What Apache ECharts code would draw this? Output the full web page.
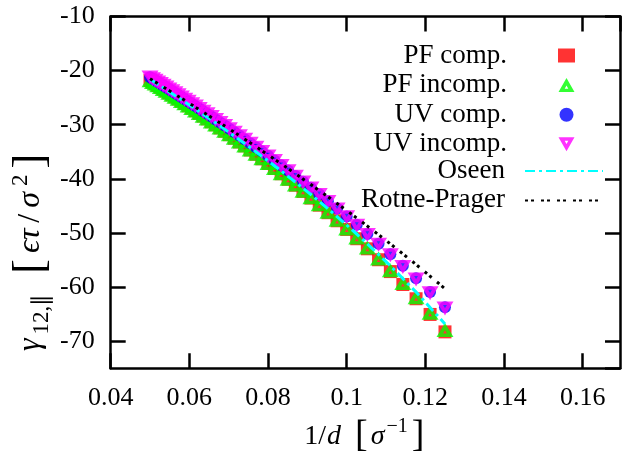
<!DOCTYPE html>
<html>
<head>
<meta charset="utf-8">
<script src="https://cdn.jsdelivr.net/npm/echarts@6/dist/echarts.min.js"></script>
<style>
  html, body { margin: 0; padding: 0; background: #fff; }
  #chart { width: 623px; height: 456px; }
</style>
</head>
<body>
<div id="chart"></div>
<script>
// Inverse separation 1/d (sigma^-1), d = 20 ... 8
const invD = [0.05, 0.050633, 0.051282, 0.051948, 0.052632, 0.053333, 0.054054, 0.054795,
  0.055556, 0.056338, 0.057143, 0.057971, 0.058824, 0.059701, 0.060606, 0.061538,
  0.0625, 0.063492, 0.064516, 0.065574, 0.066667, 0.067797, 0.068966, 0.070175,
  0.071429, 0.072727, 0.074074, 0.075472, 0.076923, 0.078431, 0.08, 0.081633,
  0.083333, 0.085106, 0.086957, 0.088889, 0.090909, 0.093023, 0.095238, 0.097561,
  0.1, 0.102564, 0.105263, 0.108108, 0.111111, 0.114286, 0.117647, 0.121212, 0.125];

const pfComp = [-21.83, -22.13, -22.43, -22.75, -23.07, -23.41, -23.75, -24.11, -24.48, -24.86,
  -25.24, -25.65, -26.07, -26.50, -26.95, -27.41, -27.90, -28.40, -28.91, -29.45,
  -30.01, -30.59, -31.20, -31.83, -32.49, -33.18, -33.90, -34.66, -35.45, -36.29,
  -37.16, -38.08, -39.05, -40.08, -41.17, -42.32, -43.55, -44.86, -46.25, -47.74,
  -49.34, -51.06, -52.92, -54.94, -57.13, -59.52, -62.15, -65.05, -68.27];

const pfIncomp = [-21.80, -22.10, -22.40, -22.72, -23.04, -23.38, -23.72, -24.07, -24.44, -24.82,
  -25.20, -25.61, -26.02, -26.45, -26.90, -27.36, -27.84, -28.34, -28.85, -29.39,
  -29.94, -30.52, -31.13, -31.76, -32.41, -33.10, -33.82, -34.57, -35.36, -36.19,
  -37.06, -37.97, -38.94, -39.96, -41.04, -42.18, -43.40, -44.70, -46.08, -47.56,
  -49.15, -50.85, -52.70, -54.70, -56.87, -59.24, -61.85, -64.72, -67.91];

const uvComp = [-21.22, -21.51, -21.80, -22.11, -22.42, -22.74, -23.07, -23.41, -23.76, -24.12,
  -24.49, -24.88, -25.28, -25.69, -26.12, -26.56, -27.02, -27.49, -27.98, -28.49,
  -29.02, -29.57, -30.14, -30.74, -31.36, -32.01, -32.69, -33.40, -34.14, -34.92,
  -35.74, -36.60, -37.50, -38.45, -39.46, -40.53, -41.65, -42.85, -44.13, -45.49,
  -46.94, -48.50, -50.17, -51.98, -53.93, -56.06, -58.38, -60.92, -63.72];

const uvIncomp = [-21.29, -21.58, -21.87, -22.18, -22.49, -22.81, -23.14, -23.48, -23.83, -24.20,
  -24.57, -24.96, -25.36, -25.77, -26.20, -26.64, -27.10, -27.58, -28.07, -28.58,
  -29.11, -29.66, -30.24, -30.84, -31.46, -32.11, -32.79, -33.51, -34.25, -35.03,
  -35.85, -36.72, -37.62, -38.58, -39.59, -40.66, -41.79, -42.99, -44.28, -45.64,
  -47.10, -48.67, -50.35, -52.17, -54.13, -56.27, -58.60, -61.15, -63.97];

// Analytic hydrodynamic approximations
const theoryX = [0.05, 0.052632, 0.055556, 0.058824, 0.0625, 0.066667, 0.071429, 0.076923,
  0.083333, 0.090909, 0.095238, 0.1, 0.105263, 0.111111, 0.117647, 0.125];
const oseen = [-21.60, -22.83, -24.21, -25.78, -27.57, -29.64, -32.08, -34.98,
  -38.50, -42.89, -45.51, -48.52, -51.99, -56.06, -60.91, -66.81];
const rotnePrager = [-21.50, -22.68, -24.01, -25.50, -27.19, -29.14, -31.39, -34.04,
  -37.20, -41.05, -43.31, -45.84, -48.72, -52.01, -55.82, -60.29];

const seriesNames = ['PF comp.', 'PF incomp.', 'UV comp.', 'UV incomp.', 'Oseen', 'Rotne-Prager'];
const xTicks = { min: 0.04, max: 0.1695, step: 0.02 };
const yRange = { min: -75, max: -10 };

const FONT = 'Liberation Serif';
const pairs = (xs, ys) => xs.map((x, i) => [x, ys[i]]);

// Thick open triangles (outer outline with a small inner hole of opposite winding)
const TRI_UP = 'path://M0,14 L8,0 L16,14 Z M6.2,10.6 L9.8,10.6 L8,7.4 Z';
const TRI_DOWN = 'path://M0,0 L16,0 L8,14 Z M6.2,3.4 L8,6.6 L9.8,3.4 Z';

const chart = echarts.init(document.getElementById('chart'), null, { renderer: 'canvas' });

const border = { show: true, lineStyle: { color: '#000', width: 2.5 } };
const innerTick = { show: true, inside: true, length: 15, lineStyle: { color: '#000', width: 2.5 } };
const tickFont = { fontFamily: FONT, fontSize: 26, color: '#000' };
const keyText = { fontFamily: FONT, fontSize: 27, color: '#000' };

chart.setOption({
  animation: false,
  backgroundColor: '#fff',
  grid: {
    left: 110.7, right: 3, top: 16.5, bottom: 87.7,
    containLabel: false, outerBoundsMode: 'none'
  },
  xAxis: [
    {
      type: 'value', position: 'bottom',
      min: xTicks.min, max: xTicks.max, interval: xTicks.step,
      axisLine: border, axisTick: innerTick, splitLine: { show: false },
      axisLabel: Object.assign({ margin: 17, showMaxLabel: false }, tickFont),
      name: '1/{i|d}{sp| }{b|[}{i|σ}{sup|−1}{b|]}',
      nameLocation: 'middle', nameGap: 48,
      nameTextStyle: {
        fontFamily: FONT, fontSize: 28, color: '#000', lineHeight: 40,
        rich: {
          i: { fontFamily: FONT, fontSize: 28, fontStyle: 'italic', lineHeight: 40, padding: [0, 1] },
          sp: { fontFamily: FONT, fontSize: 28, lineHeight: 40, padding: [0, 2] },
          sup: { fontFamily: FONT, fontSize: 20, verticalAlign: 'top', lineHeight: 24, padding: [0, 2, 0, 1] },
          b: { fontFamily: FONT, fontSize: 38, lineHeight: 40, padding: [0, 2] }
        }
      }
    },
    {
      type: 'value', position: 'top',
      min: xTicks.min, max: xTicks.max, interval: xTicks.step,
      axisLine: border, axisTick: innerTick, splitLine: { show: false },
      axisLabel: { show: false }
    }
  ],
  yAxis: [
    {
      type: 'value', position: 'left',
      min: yRange.min, max: yRange.max, splitNumber: 6,
      axisLine: border, axisTick: innerTick, splitLine: { show: false },
      axisLabel: Object.assign({ margin: 16, showMinLabel: false }, tickFont)
    },
    {
      type: 'value', position: 'right',
      min: yRange.min, max: yRange.max, splitNumber: 6,
      axisLine: border, axisTick: innerTick, splitLine: { show: false },
      axisLabel: { show: false }
    }
  ],
  legend: [
    {
      // point-style entries
      orient: 'vertical', align: 'right',
      right: 48, top: 42, padding: 0,
      itemWidth: 17, itemHeight: 14, itemGap: 2.6,
      selectedMode: false,
      textStyle: Object.assign({ padding: [0, 46, 0, 0] }, keyText),
      data: seriesNames.slice(0, 4)
    },
    {
      // line-style entries
      orient: 'vertical', align: 'right',
      right: 19, top: 157.5, padding: 0,
      itemWidth: 78, itemHeight: 14, itemGap: 2.4,
      selectedMode: false,
      itemStyle: { opacity: 0 },
      textStyle: Object.assign({ padding: [0, 15, 0, 0] }, keyText),
      data: seriesNames.slice(4)
    }
  ],
  graphic: [
    {
      type: 'text', x: 31, y: 354, rotation: Math.PI / 2,
      style: {
        text: '{i|γ}{sub|12,∥}{sp| }{b|[}{i|ϵτ}{s|/}{i|σ}{sup|2}{b|]}',
        fontFamily: FONT, fontSize: 32, fill: '#000', lineHeight: 44,
        align: 'left', verticalAlign: 'middle',
        rich: {
          i: { fontFamily: FONT, fontSize: 32, fontStyle: 'italic', lineHeight: 44, padding: [0, 3] },
          s: { fontFamily: FONT, fontSize: 32, lineHeight: 44, padding: [0, 3] },
          sp: { fontFamily: FONT, fontSize: 32, lineHeight: 44, padding: [0, 3] },
          sub: { fontFamily: FONT, fontSize: 23, verticalAlign: 'bottom', lineHeight: 30, padding: [0, 3, 0, 1] },
          sup: { fontFamily: FONT, fontSize: 23, verticalAlign: 'top', lineHeight: 28, padding: [0, 3] },
          b: { fontFamily: FONT, fontSize: 44, lineHeight: 44, padding: [0, 3] }
        }
      }
    }
  ],
  series: [
    {
      name: seriesNames[0], type: 'scatter', data: pairs(invD, pfComp),
      symbol: 'rect', symbolSize: 13,
      itemStyle: { color: '#ff0000' }
    },
    {
      name: seriesNames[1], type: 'scatter', data: pairs(invD, pfIncomp),
      symbol: TRI_UP, symbolSize: [17, 14],
      itemStyle: { color: '#00ff00' }
    },
    {
      name: seriesNames[2], type: 'scatter', data: pairs(invD, uvComp),
      symbol: 'circle', symbolSize: 12,
      itemStyle: { color: '#0000ff' }
    },
    {
      name: seriesNames[3], type: 'scatter', data: pairs(invD, uvIncomp),
      symbol: TRI_DOWN, symbolSize: [17, 14],
      itemStyle: { color: '#ff00ff' }
    },
    {
      name: seriesNames[4], type: 'line', data: pairs(theoryX, oseen),
      showSymbol: false, symbol: 'none',
      lineStyle: { color: '#00ffff', width: 3, type: [10, 4, 3, 4] },
      itemStyle: { color: '#00ffff' }
    },
    {
      name: seriesNames[5], type: 'line', data: pairs(theoryX, rotnePrager),
      showSymbol: false, symbol: 'none',
      lineStyle: { color: '#000000', width: 3, type: [3, 3, 3, 7] },
      itemStyle: { color: '#000000' }
    }
  ]
});
</script>
</body>
</html>
